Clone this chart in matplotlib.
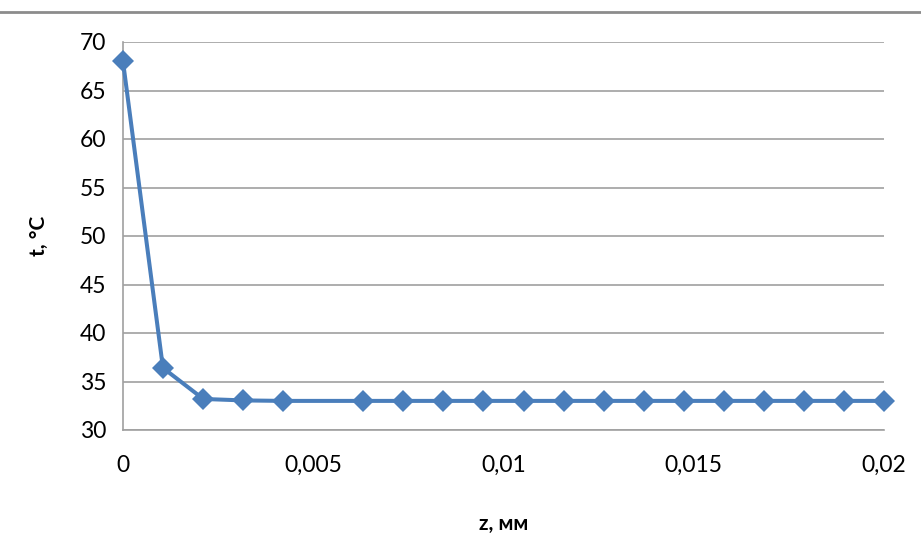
import matplotlib
matplotlib.use("Agg")
import matplotlib.pyplot as plt
from matplotlib.lines import Line2D

z_mm = [0.0, 0.00105, 0.00211, 0.00316, 0.00421, 0.00632, 0.00737, 0.00842,
        0.00947, 0.01053, 0.01158, 0.01263, 0.01368, 0.01474, 0.01579,
        0.01684, 0.01789, 0.01895, 0.02]
t_c = [68.0, 36.4, 33.2, 33.05, 33.0, 33.0, 33.0, 33.0, 33.0, 33.0,
       33.0, 33.0, 33.0, 33.0, 33.0, 33.0, 33.0, 33.0, 33.0]
x_ticks = [0, 0.005, 0.01, 0.015, 0.02]
x_tick_labels = ["0", "0,005", "0,01", "0,015", "0,02"]
y_ticks = [30, 35, 40, 45, 50, 55, 60, 65, 70]

plt.rcParams['font.family'] = ['Lato', 'DejaVu Sans']

fig = plt.figure(figsize=(9.21, 5.42), dpi=100)
ax = fig.add_axes([123/921, 1-430/542, (884-123)/921, (430-42)/542])

ax.plot(z_mm, t_c, color='#4a7ebb', lw=2.9, marker='D', markersize=11,
        markeredgewidth=0, solid_joinstyle='round', clip_on=False, zorder=3)

ax.set_xlim(0, 0.02)
ax.set_ylim(30, 70)
ax.set_xticks(x_ticks)
ax.set_xticklabels(x_tick_labels)
ax.set_yticks(y_ticks)
ax.grid(axis='y', color='#a0a0a0', lw=1.2)
ax.set_axisbelow(True)
for s in ['top', 'right']:
    ax.spines[s].set_visible(False)
for s in ['left', 'bottom']:
    ax.spines[s].set_color('#a0a0a0')
    ax.spines[s].set_linewidth(1.2)
ax.tick_params(axis='both', length=0, labelsize=16.5, colors='#000000')
ax.tick_params(axis='x', pad=18)
ax.tick_params(axis='y', pad=12)

ax.set_xlabel("z, мм", fontsize=15, fontweight='bold', labelpad=27)
ax.set_ylabel("t, °C", fontsize=15, fontweight='bold', labelpad=22)

fig.add_artist(Line2D([0, 1], [1-12/542, 1-12/542], transform=fig.transFigure,
                      color='#8c8c8c', lw=2))

fig.savefig("out.png", dpi=100)
